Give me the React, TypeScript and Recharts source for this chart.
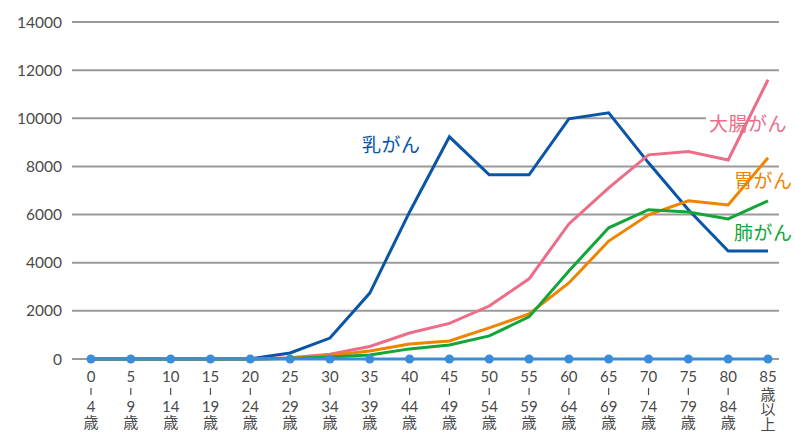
import React from 'react';
import { LineChart, Line, XAxis, YAxis, CartesianGrid, Customized } from 'recharts';

const ageStarts = ['0', '5', '10', '15', '20', '25', '30', '35', '40', '45', '50', '55', '60', '65', '70', '75', '80', '85'];
const ageEnds = ['4', '9', '14', '19', '24', '29', '34', '39', '44', '49', '54', '59', '64', '69', '74', '79', '84', ''];
const categories = ageStarts.map((s, i) => (ageEnds[i] ? `${s}-${ageEnds[i]}歳` : `${s}歳以上`));

const breast = [0, 0, 0, 0, 10, 250, 870, 2740, 6110, 9230, 7650, 7650, 9980, 10230, 8150, 6200, 4490, 4490];
const colorectal = [0, 0, 0, 0, 0, 50, 200, 520, 1080, 1480, 2200, 3330, 5610, 7110, 8480, 8620, 8270, 11600];
const stomach = [0, 0, 0, 0, 0, 30, 150, 330, 620, 750, 1290, 1870, 3160, 4900, 5990, 6570, 6400, 8360];
const lung = [0, 0, 0, 0, 0, 20, 80, 170, 420, 580, 960, 1750, 3660, 5450, 6200, 6110, 5820, 6570];
const baseline = categories.map(() => 0);
const yTicks = [0, 2000, 4000, 6000, 8000, 10000, 12000, 14000];

const data = categories.map((c, i) => ({
  cat: c,
  breast: breast[i],
  colorectal: colorectal[i],
  stomach: stomach[i],
  lung: lung[i],
  base: baseline[i],
}));

const FONT = "Lato, 'Noto Sans CJK JP', sans-serif";
const TEXT = '#4a4a4a';

const AgeTick = (props: any) => {
  const { x, y, index } = props;
  const s = ageStarts[index];
  const e = ageEnds[index];
  const common = { textAnchor: 'middle' as const, fill: TEXT, fontSize: 15, fontFamily: FONT };
  if (!e) {
    return (
      <g>
        <text x={x} y={y + 15} {...common}>
          <tspan x={x} y={y + 15}>{s}</tspan>
          <tspan x={x} y={y + 33}>歳</tspan>
          <tspan x={x} y={y + 48}>以</tspan>
          <tspan x={x} y={y + 63}>上</tspan>
        </text>
      </g>
    );
  }
  return (
    <g>
      <line x1={x} x2={x} y1={y + 21} y2={y + 28} stroke={TEXT} strokeWidth={1.2} />
      <text x={x} y={y + 15} {...common}>
        <tspan x={x} y={y + 15}>{s}</tspan>
        <tspan x={x} y={y + 45}>{e}</tspan>
        <tspan x={x} y={y + 61}>歳</tspan>
      </text>
    </g>
  );
};

const labels = [
  { text: '乳がん', x: 362, y: 152, w: 62, color: '#0a55a5' },
  { text: '大腸がん', x: 709, y: 131, w: 84, color: '#ec6d88' },
  { text: '胃がん', x: 734, y: 188, w: 61, color: '#f08300' },
  { text: '肺がん', x: 734, y: 240, w: 61, color: '#13a538' },
];

const Labels = () => (
  <g>
    {labels.map((l) => (
      <g key={l.text}>
        <rect x={l.x - 3} y={l.y - 20} width={l.w + 6} height={26} fill="#ffffff" />
        <text x={l.x} y={l.y} fill={l.color} fontSize={19} fontFamily={FONT} letterSpacing={0.5}>
          {l.text}
        </text>
      </g>
    ))}
  </g>
);

export default function App() {
  return (
    <div style={{ position: 'absolute', left: 0, top: 0, width: 795, height: 440, background: '#fff' }}>
      <LineChart width={795} height={440} data={data} margin={{ top: 22, right: 16, bottom: 0, left: 0 }}>
        <CartesianGrid vertical={false} stroke="#9a9a9a" strokeWidth={2} />
        <XAxis
          dataKey="cat"
          interval={0}
          tickLine={false}
          axisLine={false}
          height={81}
          padding={{ left: 19, right: 11 }}
          tick={<AgeTick />}
        />
        <YAxis
          domain={[0, 14000]}
          ticks={yTicks}
          width={72}
          tickLine={false}
          axisLine={false}
          tick={{ fill: TEXT, fontSize: 15.5, fontFamily: FONT }}
          tickMargin={4}
        />
        <Line dataKey="breast" stroke="#0a55a5" strokeWidth={3} dot={false} isAnimationActive={false} />
        <Line dataKey="colorectal" stroke="#ec6d88" strokeWidth={3} dot={false} isAnimationActive={false} />
        <Line dataKey="stomach" stroke="#f08300" strokeWidth={3} dot={false} isAnimationActive={false} />
        <Line dataKey="lung" stroke="#13a538" strokeWidth={3} dot={false} isAnimationActive={false} />
        <Customized component={Labels} />
        <Line
          dataKey="base"
          stroke="#3a8ddb"
          strokeWidth={3}
          dot={{ r: 4.5, fill: '#3a8ddb', stroke: 'none' }}
          isAnimationActive={false}
        />
      </LineChart>
    </div>
  );
}
